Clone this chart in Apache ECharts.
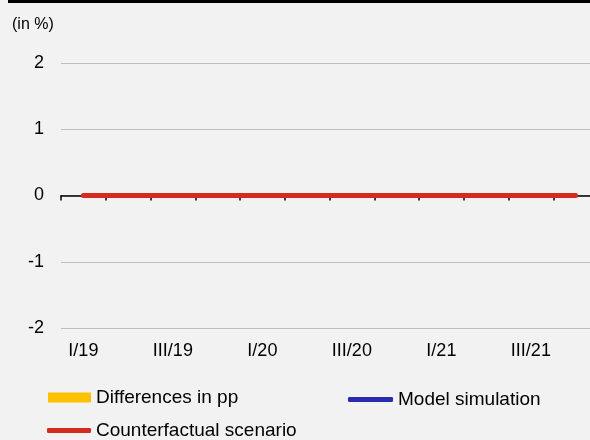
<!DOCTYPE html>
<html>
<head>
<meta charset="utf-8">
<script src="https://cdn.jsdelivr.net/npm/echarts@6/dist/echarts.min.js"></script>
<style>
  html, body { margin: 0; padding: 0; background: #f2f2f2; }
  #chart { width: 590px; height: 440px; }
</style>
</head>
<body>
<div id="chart"></div>
<script>
// quarters on the x axis
const quarters = ["I/19", "II/19", "III/19", "IV/19", "I/20", "II/20", "III/20", "IV/20", "I/21", "II/21", "III/21", "IV/21"];
// y axis ticks (in %)
const yTicks = [-2, -1, 0, 1, 2];
// series values
const differences = [0, 0, 0, 0, 0, 0, 0, 0, 0, 0, 0, 0];
const modelSimulation = [0, 0, 0, 0, 0, 0, 0, 0, 0, 0, 0, 0];
const counterfactual = [0, 0, 0, 0, 0, 0, 0, 0, 0, 0, 0, 0];

const font = "'Liberation Sans', Arial, sans-serif";
const chart = echarts.init(document.getElementById("chart"));

const legendText = { fontSize: 19, color: "#000", fontFamily: font };

const option = {
  animation: false,
  backgroundColor: "#f2f2f2",
  textStyle: { fontFamily: font, color: "#000" },
  title: {
    text: "(in %)",
    left: 12,
    top: 17,
    padding: 0,
    textStyle: { fontFamily: font, fontSize: 16, fontWeight: "normal", color: "#000" },
  },
  graphic: [
    {
      type: "line",
      shape: { x1: 8, y1: 1.5, x2: 590, y2: 1.5 },
      style: { stroke: "#000", lineWidth: 3 },
    },
  ],
  // the plot runs a little past the right edge of the picture
  grid: { left: 61, top: 63, width: 537, bottom: 112, outerBoundsMode: "none", containLabel: false },
  xAxis: [
    {
      type: "category",
      data: quarters,
      boundaryGap: true,
      axisLine: { onZero: true, lineStyle: { color: "#000", width: 1.5 } },
      axisTick: { show: true, interval: 0, length: 5, lineStyle: { color: "#000", width: 1.5 } },
      axisLabel: { show: false },
      splitLine: { show: false },
    },
    {
      type: "category",
      data: quarters,
      position: "bottom",
      boundaryGap: true,
      axisLine: { show: false, onZero: false },
      axisTick: { show: false },
      axisLabel: { interval: 1, margin: 14, fontSize: 18, color: "#000", fontFamily: font },
      splitLine: { show: false },
    },
  ],
  yAxis: {
    type: "value",
    min: yTicks[0],
    max: yTicks[yTicks.length - 1],
    interval: 1,
    axisLine: { show: false },
    axisTick: { show: false },
    axisLabel: { fontSize: 18, color: "#000", margin: 17, fontFamily: font },
    splitLine: { lineStyle: { color: "#bfbfbf", width: 1 } },
  },
  legend: [
    {
      data: [{ name: "Differences in pp", icon: "rect" }],
      left: 48,
      top: 388,
      padding: 0,
      itemWidth: 43,
      itemHeight: 10,
      textStyle: legendText,
    },
    {
      data: [{ name: "Model simulation", icon: "roundRect" }],
      left: 348,
      top: 390,
      padding: 0,
      itemWidth: 45,
      itemHeight: 5,
      textStyle: legendText,
    },
    {
      data: [{ name: "Counterfactual scenario", icon: "roundRect" }],
      left: 47,
      top: 421,
      padding: 0,
      itemWidth: 44,
      itemHeight: 5,
      textStyle: legendText,
    },
  ],
  series: [
    {
      name: "Differences in pp",
      type: "bar",
      data: differences,
      itemStyle: { color: "#ffc000" },
      barWidth: "60%",
    },
    {
      name: "Model simulation",
      type: "line",
      data: modelSimulation,
      symbol: "none",
      lineStyle: { color: "#2b2bb0", width: 4 },
      itemStyle: { color: "#2b2bb0" },
      z: 3,
    },
    {
      name: "Counterfactual scenario",
      type: "line",
      data: counterfactual,
      symbol: "none",
      lineStyle: { color: "#d52b1e", width: 5, cap: "round" },
      itemStyle: { color: "#d52b1e" },
      z: 4,
    },
  ],
};

chart.setOption(option);
</script>
</body>
</html>
